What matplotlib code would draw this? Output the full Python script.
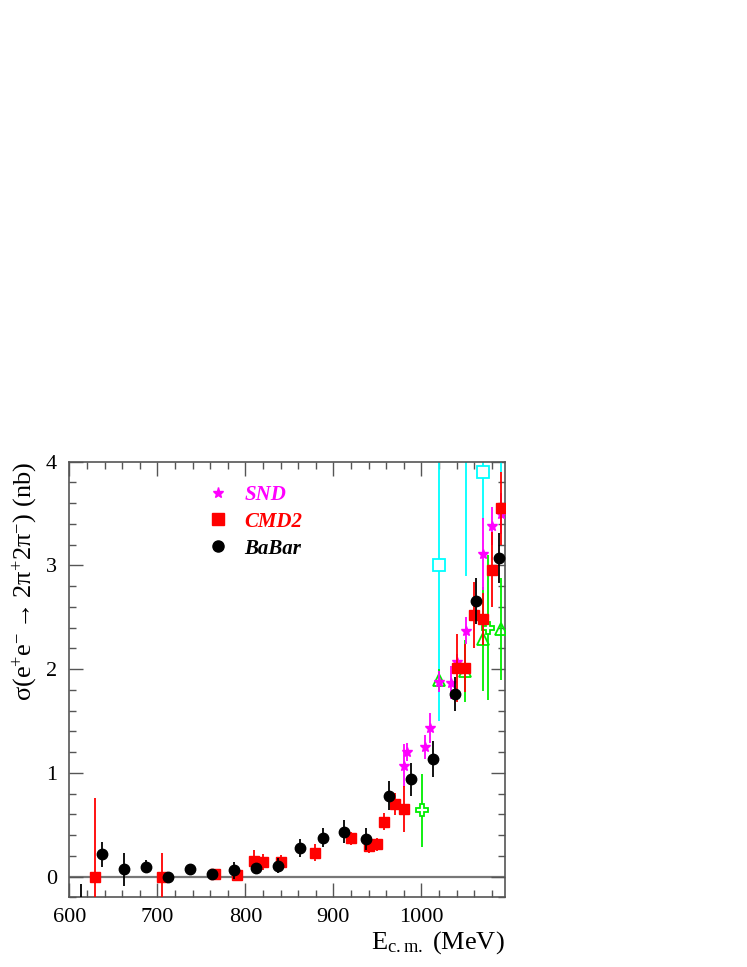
import numpy as np
import matplotlib
matplotlib.use("Agg")
import matplotlib.pyplot as plt
from matplotlib.lines import Line2D
from matplotlib.ticker import MultipleLocator

# ---------------------------
# Data
# ---------------------------

babar_e = [613, 637, 662, 687, 712, 737, 762, 787, 812.5, 837.5, 862, 887.6,
           912.6, 937.3, 962.7, 987.7, 1013, 1037.8, 1062.3, 1087.9]
babar_s = [-0.35, 0.216, 0.071, 0.096, 0.0, 0.071, 0.029, 0.06, 0.08, 0.106, 0.277, 0.376,
           0.434, 0.363, 0.78, 0.94, 1.135, 1.76, 2.66, 3.07]
babar_err = [0.28, 0.12, 0.16, 0.065, 0.015, 0.04, 0.02, 0.08, 0.04, 0.07, 0.09, 0.09,
             0.11, 0.11, 0.14, 0.16, 0.17, 0.16, 0.22, 0.24]

cmd2_e = [629.4, 705, 765.5, 790, 809.5, 820, 840, 879.6, 920, 941, 950, 958, 970, 980,
          1040.5, 1050, 1060, 1070, 1080, 1090.5]
cmd2_s = [0.0, 0.0, 0.03, 0.013, 0.15, 0.14, 0.14, 0.23, 0.37, 0.30, 0.31, 0.53, 0.70, 0.65,
          2.01, 2.01, 2.52, 2.48, 2.96, 3.55]
cmd2_err = [0.76, 0.23, 0.02, 0.02, 0.11, 0.08, 0.07, 0.08, 0.065, 0.07, 0.06, 0.08, 0.11, 0.22,
            0.33, 0.23, 0.32, 0.25, 0.36, 0.35]

snd_e = [980, 984, 1004.5, 1010, 1020, 1034, 1040.5, 1050.3, 1070.4, 1080, 1090.5]
snd_s = [1.07, 1.20, 1.25, 1.43, 1.88, 1.87, 2.07, 2.37, 3.11, 3.38, 3.50]
snd_err = [0.21, 0.09, 0.12, 0.145, 0.10, 0.16, 0.08, 0.13, 0.35, 0.18, 0.20]

# other measurements (open symbols, not in legend)
cyan_e = [1020.3, 1050.3, 1070.4, 1090.5]
cyan_s = [3.0, 4.5, 3.9, 4.5]
cyan_err = [1.5, 1.6, 0.45, 0.6]

tri_e = [1020, 1050, 1070, 1090]
tri_s = [1.90, 1.98, 2.29, 2.39]
tri_err = [0.10, 0.30, 0.50, 0.49]

cross_e = [1000.6, 1075.6]
cross_s = [0.64, 2.40]
cross_err = [0.35, 0.70]

# ---------------------------
# Style
# ---------------------------

plt.rcParams['font.family'] = ['Liberation Serif', 'DejaVu Serif']
plt.rcParams['mathtext.fontset'] = 'custom'
plt.rcParams['mathtext.rm'] = 'Liberation Serif'
plt.rcParams['mathtext.it'] = 'Liberation Serif'
plt.rcParams['mathtext.default'] = 'regular'

CYAN = '#00ffff'
GREEN = '#00ee00'
MAGENTA = '#ff00ff'
RED = '#ff0000'
FRAME = '#555555'

fig = plt.figure(figsize=(7.47, 9.67), dpi=100)
ax = fig.add_axes([0.093, 0.072, 0.583, 0.4505])

ax.axhline(0, color='#777777', lw=1.6, zorder=1)

eb = dict(ls='none', capsize=0, elinewidth=1.3)
ax.errorbar(cyan_e, cyan_s, yerr=cyan_err, fmt='s', color=CYAN, ms=8,
            mfc='white', mew=1.3, zorder=2, **eb)
ax.errorbar(tri_e, tri_s, yerr=tri_err, fmt='^', color=GREEN, ms=8,
            mfc='none', mew=1.3, zorder=3, **eb)
ax.errorbar(cross_e, cross_s, yerr=cross_err, fmt='P', color=GREEN, ms=9,
            mfc='white', mew=1.3, zorder=3, **eb)
ax.errorbar(snd_e, snd_s, yerr=snd_err, fmt='*', color=MAGENTA, ms=7, zorder=4, **eb)
ax.errorbar(cmd2_e, cmd2_s, yerr=cmd2_err, fmt='s', color=RED, ms=7.5, zorder=5, **eb)
ax.errorbar(babar_e, babar_s, yerr=babar_err, fmt='o', color='black', ms=7.5, zorder=6, **eb)

ax.set_xlim(600, 1095)
ax.set_ylim(-0.2, 4)
ax.xaxis.set_major_locator(MultipleLocator(100))
ax.xaxis.set_minor_locator(MultipleLocator(20))
ax.yaxis.set_major_locator(MultipleLocator(1))
ax.yaxis.set_minor_locator(MultipleLocator(0.2))

ax.tick_params(which='both', direction='in', top=True, right=True, color=FRAME,
               labelsize=16)
ax.tick_params(which='major', length=10, width=1)
ax.tick_params(which='minor', length=5, width=1)
ax.tick_params(axis='x', pad=8)
ax.tick_params(axis='y', pad=9)
for s in ax.spines.values():
    s.set_color(FRAME)
    s.set_linewidth(1.2)

ax.set_xlabel(r'E$_{\rm c.m.}$ (MeV)', fontsize=19, loc='right', labelpad=1)
ax.set_ylabel(r'$\sigma(e^{+}e^{-} \rightarrow 2\pi^{+}2\pi^{-})$ (nb)',
              fontsize=19, loc='top', labelpad=5)

# ---------------------------
# Legend
# ---------------------------

handles = [
    Line2D([], [], ls='none', marker='*', color=MAGENTA, ms=8),
    Line2D([], [], ls='none', marker='s', color=RED, ms=8),
    Line2D([], [], ls='none', marker='o', color='black', ms=8),
]
leg = ax.legend(handles, ['SND', 'CMD2', 'BaBar'], loc='upper left',
                bbox_to_anchor=(0.318, 0.947), frameon=False, borderpad=0,
                borderaxespad=0, handlelength=1.0, handletextpad=0.75,
                labelspacing=0.33,
                prop=dict(family='Liberation Serif', weight='bold', style='italic', size=15),
                labelcolor=[MAGENTA, RED, 'black'])

fig.savefig('out.png', dpi=100)
